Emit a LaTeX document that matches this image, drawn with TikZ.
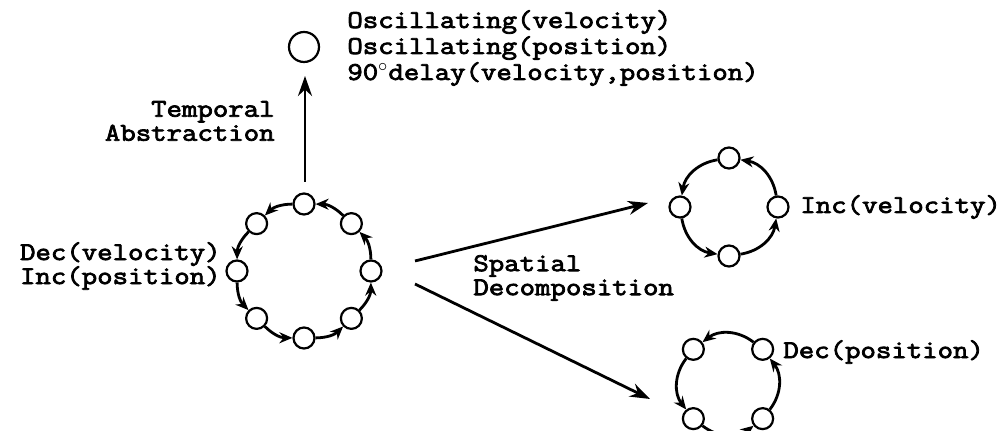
\documentclass[tikz,border=0pt]{standalone}
\usepackage{fontspec}
\setmonofont{Latin Modern Mono}[FakeBold=3,FakeStretch=1.17]
\usetikzlibrary{arrows.meta,calc}
\begin{document}
\begin{tikzpicture}[x=0.5pt,y=-0.5pt,
  st/.style={circle,draw,line width=1.1pt,minimum size=10.5pt,inner sep=0pt},
  lbl/.style={font=\ttfamily\fontsize{12.8}{12}\selectfont,inner sep=0pt,align=left},
  cyc/.style={line width=1.4pt,-{Stealth[length=6.5pt,width=5.5pt]}},
  bigarrow/.style={line width=1.4pt,-{Stealth[length=10pt,width=7pt]}}]
\useasboundingbox (0,0) rectangle (998,431);

% top state
\node[st,minimum size=15pt] (top) at (304,47) {};
\node[lbl,anchor=west,font=\ttfamily\fontsize{12.8}{13}\selectfont] (osc) at (347,48) {Oscillating(velocity)\\Oscillating(position)\\90${}^{\circ}$delay(velocity,position)};

% temporal abstraction arrow
\coordinate (tstart) at (305,182);
\coordinate (tend) at (305,76);
\draw[bigarrow] (tstart) -- (tend);
\node[lbl,anchor=east,align=right] (temp) at (275,121) {Temporal\\Abstraction};

% big cycle
\foreach \a/\n in {90/b1,135/b2,180/b3,225/b4,270/b5,315/b6,0/b7,45/b8}
  \node[st] (\n) at ({304+67*cos(\a)},{271-67*sin(\a)}) {};
\foreach \p/\q in {b1/b2,b2/b3,b3/b4,b4/b5,b5/b6,b6/b7,b7/b8,b8/b1}
  \draw[cyc] (\p) to[bend right=22] (\q);
\node[lbl,anchor=east] (dv) at (221,266) {Dec(velocity)\\Inc(position)};

% spatial decomposition arrows
\coordinate (s1) at (415,261);
\coordinate (e1) at (648,203);
\coordinate (s2) at (415,284);
\coordinate (e2) at (650,399);
\draw[bigarrow] (s1) -- (e1);
\draw[bigarrow] (s2) -- (e2);
\node[lbl,anchor=west] (sd) at (473,278) {Spatial\\Decomposition};

% upper right cycle
\foreach \a/\n in {90/u1,180/u2,270/u3,0/u4}
  \node[st] (\n) at ({729+49*cos(\a)},{207-49*sin(\a)}) {};
\foreach \p/\q in {u1/u2,u2/u3,u3/u4,u4/u1}
  \draw[cyc] (\p) to[bend right=36] (\q);
\node[lbl,anchor=west] (iv) at (800,207) {Inc(velocity)};

% lower right cycle
\foreach \a/\n in {45/l1,135/l2,225/l3,315/l4}
  \node[st] (\n) at ({728+49*cos(\a)},{384-49*sin(\a)}) {};
\foreach \p/\q in {l1/l2,l2/l3,l3/l4,l4/l1}
  \draw[cyc] (\p) to[bend right=38] (\q);
\node[lbl,anchor=west] (dp) at (783,352) {Dec(position)};
\end{tikzpicture}
\end{document}
